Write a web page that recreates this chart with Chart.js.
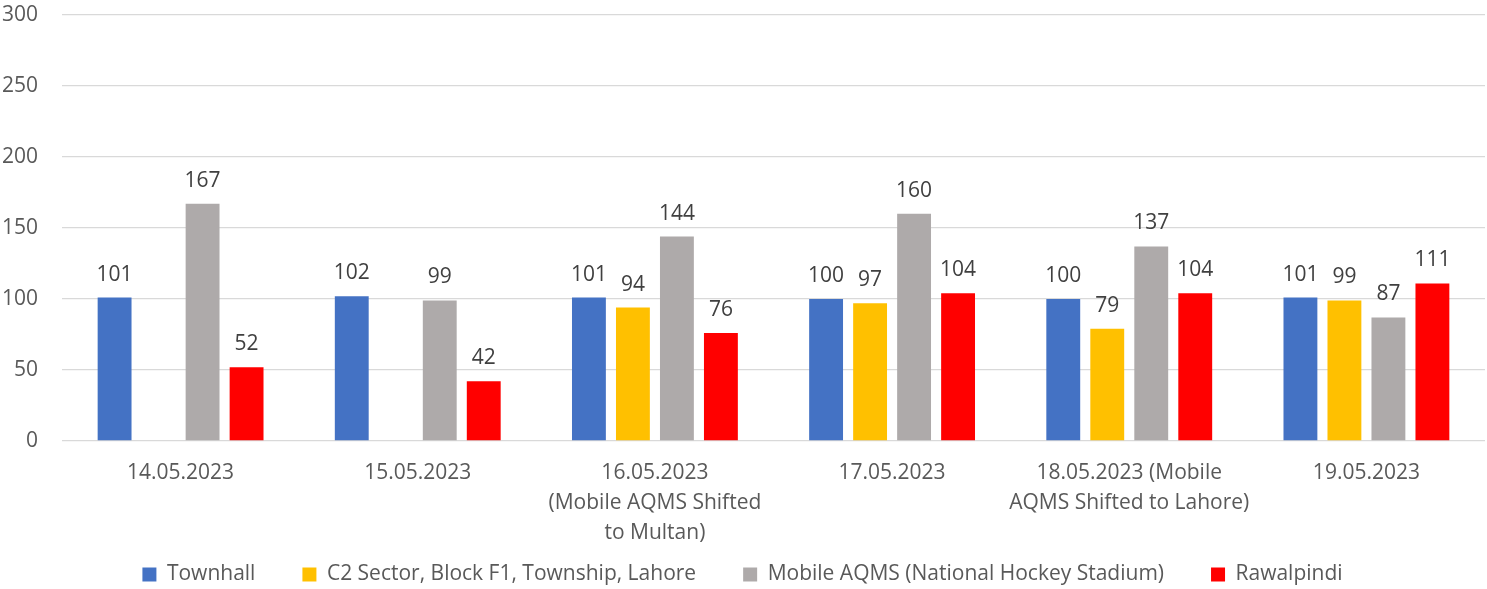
<!DOCTYPE html>
<html>
<head>
<meta charset="utf-8">
<script src="https://cdn.jsdelivr.net/npm/chart.js@4.4.0/dist/chart.umd.min.js"></script>
<style>
  html, body { margin: 0; padding: 0; background: #fff; }
  #wrap { width: 1487px; height: 589px; position: relative; }
</style>
</head>
<body>
<div id="wrap"><canvas id="aqiChart"></canvas></div>
<script>
// Data
const categories = [
    '14.05.2023',
    '15.05.2023',
    ['16.05.2023', '(Mobile AQMS Shifted', 'to Multan)'],
    '17.05.2023',
    ['18.05.2023 (Mobile', 'AQMS Shifted to Lahore)'],
    '19.05.2023'
];
const townhall = [101, 102, 101, 100, 100, 101];
const c2Sector = [null, null, 94, 97, 79, 99];
const mobileAqms = [167, 99, 144, 160, 137, 87];
const rawalpindi = [52, 42, 76, 104, 104, 111];
const yTicks = [0, 50, 100, 150, 200, 250, 300];

const FONT = '"Open Sans", sans-serif';
const FS = 21;

// Value labels above bars
const valueLabels = {
    id: 'valueLabels',
    afterDatasetsDraw(chart) {
        const ctx = chart.ctx;
        ctx.save();
        ctx.font = FS + 'px ' + FONT;
        ctx.fillStyle = '#404040';
        ctx.textAlign = 'center';
        ctx.textBaseline = 'alphabetic';
        chart.data.datasets.forEach((ds, i) => {
            const meta = chart.getDatasetMeta(i);
            meta.data.forEach((bar, j) => {
                const v = ds.data[j];
                if (v == null) return;
                ctx.fillText(String(v), bar.x, bar.y - 17);
            });
        });
        ctx.restore();
    }
};

const ctx = document.getElementById('aqiChart').getContext('2d');
new Chart(ctx, {
    type: 'bar',
    data: {
        labels: categories,
        datasets: [
            { label: 'Townhall', data: townhall, backgroundColor: '#4472C4' },
            { label: 'C2 Sector, Block F1, Township, Lahore', data: c2Sector, backgroundColor: '#FFC000' },
            { label: 'Mobile AQMS (National Hockey Stadium)', data: mobileAqms, backgroundColor: '#AEAAAA' },
            { label: 'Rawalpindi', data: rawalpindi, backgroundColor: '#FF0000' }
        ]
    },
    options: {
        responsive: true,
        maintainAspectRatio: false,
        animation: false,
        datasets: { bar: { categoryPercentage: 0.742, barPercentage: 0.77 } },
        layout: { padding: { top: 15, right: 2, left: 0, bottom: -6 } },
        scales: {
            x: {
                grid: { display: false },
                border: { display: false },
                ticks: {
                    color: '#595959',
                    font: { family: FONT, size: FS, lineHeight: 1.43 },
                    padding: 9,
                    maxRotation: 0,
                    autoSkip: false
                },
                afterFit(scale) {
                    scale.height = 76;
                    // let the 3-line label run into the legend band
                    scale._computeLabelArea = () => null;
                }
            },
            y: {
                min: 0,
                max: 300,
                afterBuildTicks(scale) { scale.ticks = yTicks.map(v => ({ value: v })); },
                grid: { color: '#D9D9D9', lineWidth: 1.3, drawTicks: false },
                border: { display: false },
                ticks: {
                    color: '#595959',
                    font: { family: FONT, size: FS },
                    padding: 24
                },
                afterFit(scale) {
                    scale.width = 62;
                    scale.paddingTop = 0;
                    scale.paddingBottom = 0;
                }
            }
        },
        plugins: {
            legend: {
                position: 'bottom',
                labels: {
                    color: '#595959',
                    font: { family: FONT, size: FS },
                    boxWidth: 14,
                    boxHeight: 14,
                    padding: 47
                }
            },
            tooltip: { enabled: false }
        }
    },
    plugins: [valueLabels]
});
</script>
</body>
</html>
